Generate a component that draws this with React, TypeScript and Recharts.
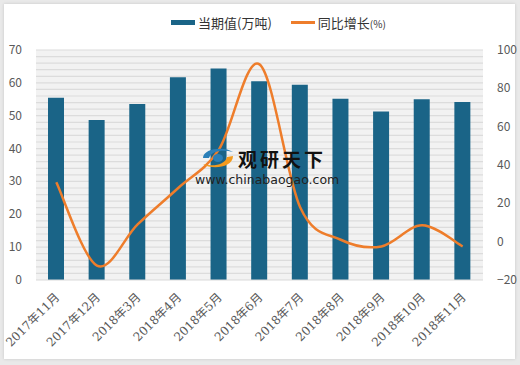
import { ComposedChart, Bar, Line, XAxis, YAxis, CartesianGrid, ReferenceLine } from 'recharts';

const months = ['2017年11月', '2017年12月', '2018年3月', '2018年4月', '2018年5月', '2018年6月', '2018年7月', '2018年8月', '2018年9月', '2018年10月', '2018年11月'];
const output = [55.5, 48.7, 53.6, 61.7, 64.4, 60.5, 59.4, 55.2, 51.3, 55.0, 54.2];
const growth = [31, -12.5, 9, 28, 48, 92.5, 18, 1, -2.5, 8.5, -2.5];
const leftTicks = [0, 10, 20, 30, 40, 50, 60, 70];
const gridValues = [2, 4, 6, 8, 10, 12, 14, 16, 18, 20, 22, 24, 26, 28, 30, 32, 34, 36, 38, 40, 42, 44, 46, 48, 50, 52, 54, 56, 58, 60, 62, 64, 66, 68, 70];
const rightTicks = [-20, 0, 20, 40, 60, 80, 100];

const data = months.map((m, i) => ({ month: m, output: output[i], growth: growth[i] }));

const BLUE = '#1a6487';
const ORANGE = '#ee7d2b';
const FONT = '"Noto Sans CJK SC", "Noto Sans", sans-serif';

// smooth line like excel (catmull-rom)
function smoothCurve(context: any) {
    let pts: number[][] = [];
    return {
        areaStart() {},
        areaEnd() {},
        lineStart() { pts = []; },
        point(x: number, y: number) { pts.push([+x, +y]); },
        lineEnd() {
            const n = pts.length;
            if (!n) return;
            context.moveTo(pts[0][0], pts[0][1]);
            for (let i = 0; i < n - 1; i++) {
                const p0 = pts[Math.max(i - 1, 0)];
                const p1 = pts[i];
                const p2 = pts[i + 1];
                const p3 = pts[Math.min(i + 2, n - 1)];
                context.bezierCurveTo(
                    p1[0] + (p2[0] - p0[0]) / 6, p1[1] + (p2[1] - p0[1]) / 6,
                    p2[0] - (p3[0] - p1[0]) / 6, p2[1] - (p3[1] - p1[1]) / 6,
                    p2[0], p2[1]
                );
            }
        },
    };
}

const LeftTick = (props: any) => {
    const { x, y, payload } = props;
    return <text x={x} y={y} dy={4} textAnchor="end" fontSize={12} fill="#595959" fontFamily={FONT}>{payload.value}</text>;
};

const RightTick = (props: any) => {
    const { x, y, payload } = props;
    const v = payload.value < 0 ? '−' + Math.abs(payload.value) : payload.value;
    return <text x={x} y={y} dy={4} textAnchor="start" fontSize={12} fill="#595959" fontFamily={FONT}>{v}</text>;
};

const MonthTick = (props: any) => {
    const { x, y, payload } = props;
    return (
        <text x={x + 4} y={y + 10} textAnchor="end" fontSize={12} fill="#595959" fontFamily='"DejaVu Serif", "Noto Sans CJK SC", serif'
            transform={`rotate(-45, ${x + 4}, ${y + 10})`}>
            {payload.value}
        </text>
    );
};

export default function App() {
    return (
        <div style={{ position: 'absolute', top: 0, left: 0, width: 520, height: 365, background: '#e9e9e9' }}>
            <div style={{ position: 'absolute', left: 4, top: 4, width: 511, height: 355, background: '#fff', boxShadow: '0 0 3px rgba(0,0,0,0.15)' }} />
            <div style={{ position: 'absolute', left: 0, top: 0 }}>
                <ComposedChart width={520} height={365} data={data} margin={{ top: 50, right: 0, bottom: 0, left: 0 }} barSize={16}>
                    <CartesianGrid vertical={false} horizontal={false} fill="#f2f2f2" />
                    <XAxis dataKey="month" height={85} tickLine={false} axisLine={{ stroke: '#d9d9d9' }} interval={0} tick={<MonthTick />} />
                    <YAxis domain={[0, 70]} ticks={leftTicks} width={36} axisLine={false} tickLine={false} tickMargin={8} tick={<LeftTick />} interval={0} />
                    <YAxis yAxisId="right" orientation="right" domain={[-20, 100]} ticks={rightTicks} width={37} axisLine={false} tickLine={false} tickMargin={8} tick={<RightTick />} />
                    {gridValues.map((v) => (
                        <ReferenceLine key={v} y={v} stroke="#dcdcdc" strokeWidth={1.2} {...({ zIndex: -60 } as any)} />
                    ))}
                    <Bar dataKey="output" fill={BLUE} isAnimationActive={false} />
                    <Line yAxisId="right" dataKey="growth" stroke={ORANGE} strokeWidth={2.5} dot={false} type={smoothCurve as any} isAnimationActive={false} />
                </ComposedChart>
            </div>
            {/* legend */}
            <div style={{ position: 'absolute', left: 171, top: 13, display: 'flex', alignItems: 'center', fontFamily: FONT, fontSize: 13, color: '#333', whiteSpace: 'nowrap' }}>
                <span style={{ display: 'inline-block', width: 24, height: 5, background: BLUE, marginRight: 3 }} />
                <span>当期值(万吨)</span>
                <span style={{ display: 'inline-block', width: 24, height: 2.5, background: ORANGE, marginLeft: 19, marginRight: 3 }} />
                <span>同比增长<span style={{ fontSize: 10 }}>(%)</span></span>
            </div>
            {/* watermark */}
            <div style={{ position: 'absolute', left: 195, top: 140, width: 140, fontFamily: FONT, pointerEvents: 'none' }}>
                <svg width={38} height={28} style={{ position: 'absolute', left: 4, top: 4 }}>
                    <path d="M4 14 C4 4, 26 2, 34 8 C24 5, 12 7, 10 14 Z" fill="#2a7fb8" />
                    <path d="M34 12 C34 24, 12 26, 4 20 C14 23, 26 21, 28 13 Z" fill="#f39a1e" />
                    <ellipse cx={19} cy={14} rx={5} ry={4} fill="#2a7fb8" />
                </svg>
                <div style={{ position: 'absolute', left: 43, top: 9, fontSize: 19, lineHeight: '19px', fontWeight: 700, color: '#111', letterSpacing: 3, whiteSpace: 'nowrap' }}>观研天下</div>
                <div style={{ position: 'absolute', left: 0, top: 33, fontSize: 12.5, lineHeight: '13px', color: '#222', whiteSpace: 'nowrap', fontFamily: '"DejaVu Sans", sans-serif' }}>www.chinabaogao.com</div>
            </div>
        </div>
    );
}
